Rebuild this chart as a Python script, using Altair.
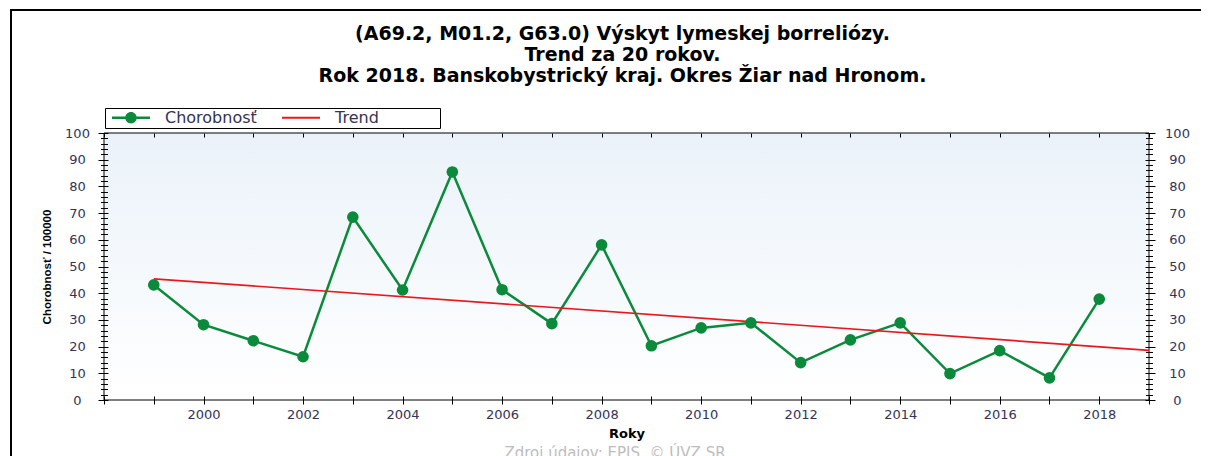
import altair as alt
import pandas as pd

# ---------------- data ----------------
years = list(range(1999, 2019))
incidence = [43.1, 28.2, 22.2, 16.2, 68.5, 41.2, 85.4, 41.3, 28.6, 58.1,
             20.3, 27.0, 28.9, 14.0, 22.5, 28.9, 9.9, 18.5, 8.3, 37.8]
trend_years = [1999, 2019]
trend_values = [45.4, 18.6]
series_names = ["Chorobnosť", "Trend"]
x_ticks = list(range(1998, 2020))
y_major = list(range(0, 101, 10))
y_minor = list(range(0, 101, 2))
title_lines = ["(A69.2, M01.2, G63.0) Výskyt lymeskej borreliózy.",
               "Trend za 20 rokov.",
               "Rok 2018. Banskobystrický kraj. Okres Žiar nad Hronom."]
x_title = "Roky"
y_title = "Chorobnosť / 100000"
source_text = "Zdroj údajov: EPIS, © ÚVZ SR"

# ---------------- style ----------------
GREEN = "#0b8a3c"
RED = "#e8191e"
LABEL_COLOR = "#333355"
W, H = 1045, 267
XDOM = [1998, 2019]
YDOM = [0, 100]

df = pd.DataFrame({"year": years, "value": incidence})
trend_df = pd.DataFrame({"year": trend_years, "value": trend_values})
bg_df = pd.DataFrame({"x0": [XDOM[0]], "x1": [XDOM[1]], "y0": [YDOM[0]], "y1": [YDOM[1]]})
legend_df = pd.DataFrame({"series": series_names})
src_df = pd.DataFrame({"t": [source_text]})


def xscale():
    return alt.Scale(domain=XDOM, nice=False, zero=False)


def yscale():
    return alt.Scale(domain=YDOM, nice=False, zero=False)


label_common = dict(labelFont="DejaVu Sans", labelFontSize=13, labelColor=LABEL_COLOR,
                    labelFlush=False, labelBound=False, labelOverlap=False,
                    domain=False, grid=False, tickColor="black", tickWidth=1, zindex=1)

x_bottom = alt.Axis(orient="bottom", values=x_ticks, format="d",
                    labelExpr="datum.value % 2 === 0 && datum.value >= 2000 ? datum.label : ''",
                    tickSize=8, offset=-4, labelPadding=4,
                    title=x_title, titleFont="DejaVu Sans", titleFontSize=13,
                    titleFontWeight="bold", titleColor="black",
                    titleX=W / 2, titleY=37, titleBaseline="middle", titleAlign="center",
                    **label_common)
x_top = alt.Axis(orient="top", values=x_ticks, labels=False, tickSize=4, offset=-4,
                 title=None, domain=False, grid=False, tickColor="black", zindex=1)

y_left_major = alt.Axis(orient="left", values=y_major, tickSize=10, offset=-4,
                        labelAlign="center", labelPadding=21,
                        title=y_title, titleFont="Liberation Sans", titleFontSize=11.5,
                        titleFontWeight="bold", titleColor="black", titleAngle=270,
                        titleX=-61, titleY=H / 2, titleBaseline="middle", titleAlign="center",
                        **label_common)
y_left_minor = alt.Axis(orient="left", values=y_minor, tickSize=7, offset=-3.5, labels=False,
                        title=None, domain=False, grid=False, tickColor="black", zindex=1)
y_right_major = alt.Axis(orient="right", values=y_major, tickSize=10, offset=-4,
                         labelAlign="center", labelPadding=22, title=None, **label_common)
y_right_minor = alt.Axis(orient="right", values=y_minor, tickSize=7, offset=-3.5, labels=False,
                         title=None, domain=False, grid=False, tickColor="black", zindex=1)

# outer frame (decoration)
frame = alt.Chart(src_df).mark_rect(filled=False, stroke="black", strokeWidth=2).encode(
    x=alt.value(-93), y=alt.value(-123), x2=alt.value(1300), y2=alt.value(400)
)

# plot background with gradient
bg = alt.Chart(bg_df).mark_rect(
    fill=alt.LinearGradient(gradient="linear", x1=0, x2=0, y1=0, y2=1,
                            stops=[alt.GradientStop(color="#eaf2f9", offset=0),
                                   alt.GradientStop(color="#ffffff", offset=1)]),
    stroke="black", strokeWidth=1
).encode(
    x=alt.X("x0:Q", scale=xscale(), axis=x_bottom),
    x2="x1:Q",
    y=alt.Y("y0:Q", scale=yscale(), axis=y_left_major),
    y2="y1:Q",
)

line = alt.Chart(df).mark_line(color=GREEN, strokeWidth=2.5).encode(
    x=alt.X("year:Q", scale=xscale(), axis=None),
    y=alt.Y("value:Q", scale=yscale(), axis=y_left_minor),
)

trend = alt.Chart(trend_df).mark_line(color=RED, strokeWidth=1.7).encode(
    x=alt.X("year:Q", scale=xscale(), axis=x_top),
    y=alt.Y("value:Q", scale=yscale(), axis=y_right_major),
)

points = alt.Chart(df).mark_point(filled=True, color=GREEN, size=135, opacity=1).encode(
    x=alt.X("year:Q", scale=xscale(), axis=None),
    y=alt.Y("value:Q", scale=yscale(), axis=y_right_minor),
)

PATH_A = ("M-1,-0.06L1,-0.06L1,0.06L-1,0.06Z "
          "M-0.3,0A0.3,0.3 0 1,1 0.3,0A0.3,0.3 0 1,1 -0.3,0Z")
PATH_B = "M-1,-0.05L1,-0.05L1,0.05L-1,0.05Z"
BLANK = "\u2800"
leg = alt.Legend(orient="none", legendX=1, legendY=-25, direction="horizontal", title=None,
                 strokeColor="black", fillColor="white", padding=2, clipHeight=15,
                 symbolSize=1444, symbolStrokeWidth=0, symbolOffset=5,
                 labelFont="DejaVu Sans", labelFontSize=16, labelColor=LABEL_COLOR,
                 labelOffset=15, columnPadding=20, labelLimit=600,
                 labelExpr="datum.label == 'Trend' ? 'Trend" + BLANK * 5 + "' : datum.label")
legend_layer = alt.Chart(legend_df).mark_point(filled=True, size=1444, opacity=1).encode(
    color=alt.Color("series:N", scale=alt.Scale(domain=series_names, range=[GREEN, RED]), legend=leg),
    shape=alt.Shape("series:N", scale=alt.Scale(domain=series_names, range=[PATH_A, PATH_B]), legend=leg),
).transform_filter("false")

source = alt.Chart(src_df).mark_text(font="DejaVu Sans", fontSize=15, color="#bdbdbd",
                                     align="center", baseline="alphabetic").encode(
    text="t:N", x=alt.value(511), y=alt.value(325)
)

chart = alt.layer(frame, bg, line, trend, points, legend_layer, source).resolve_scale(
    x="independent", y="independent"
).properties(
    width=W, height=H,
    autosize=alt.AutoSizeParams(type="none"),
    padding={"left": 96, "top": 125, "right": 52, "bottom": 56},
    title=alt.TitleParams(text=title_lines, font="DejaVu Sans", fontSize=19, fontWeight="bold",
                          color="black", lineHeight=21, anchor="middle", frame="group",
                          offset=-77, dx=-4),
).configure_view(stroke=None)

chart.save("out.html", embed_options={"renderer": "svg", "actions": False})
